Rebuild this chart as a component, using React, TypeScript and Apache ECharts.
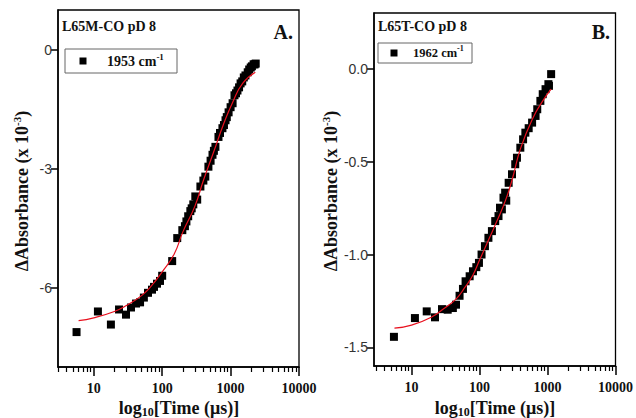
import React, { useEffect, useRef } from "react";
import * as echarts from "echarts";

// Panel A: L65M-CO pD 8, 1953 cm-1
const A_TIME = [5.6, 11.5, 17.8, 23.4, 29.6, 35, 41.5, 47.5, 54, 62, 71, 76, 84, 93, 100, 140, 166, 197, 215, 226, 240, 258, 270, 285, 305, 325, 362, 400, 427, 474, 510, 544, 570, 600, 665, 700, 760, 800, 843, 880, 935, 1000, 1070, 1140, 1200, 1260, 1330, 1400, 1480, 1560, 1650, 1780, 1870, 1970, 2050, 2170, 2250, 2330];
const A_VALUE = [-7.12, -6.6, -6.93, -6.55, -6.68, -6.5, -6.4, -6.37, -6.25, -6.13, -6.05, -5.98, -5.9, -5.83, -5.7, -5.33, -4.75, -4.55, -4.45, -4.33, -4.2, -4.07, -4.0, -3.9, -3.7, -3.78, -3.45, -3.3, -3.2, -2.95, -2.8, -2.65, -2.55, -2.45, -2.2, -2.1, -1.98, -1.9, -1.78, -1.7, -1.58, -1.45, -1.35, -1.15, -1.1, -1.03, -0.95, -0.85, -0.8, -0.7, -0.65, -0.57, -0.5, -0.45, -0.42, -0.37, -0.37, -0.35];
const A_FIT_TIME = [6, 10, 20, 30, 50, 70, 100, 150, 200, 300, 400, 560, 800, 1070, 1500, 2300];
const A_FIT_VALUE = [-6.83, -6.76, -6.6, -6.45, -6.2, -5.95, -5.6, -5.15, -4.6, -3.95, -3.3, -2.6, -1.85, -1.33, -0.85, -0.57];
const A_Y_TICKS = [-6, -3, 0];

// Panel B: L65T-CO pD 8, 1962 cm-1
const B_TIME = [5.5, 11.2, 16.7, 22.1, 28, 34, 40.5, 45, 50.8, 57, 62.3, 71.5, 80, 89.6, 98, 107, 120, 135, 152, 170, 190, 200, 213, 225, 238, 247, 268, 300, 335, 355, 398, 437, 472, 528, 593, 667, 706, 785, 850, 935, 1030, 1050, 1130];
const B_VALUE = [-1.443, -1.342, -1.306, -1.338, -1.294, -1.297, -1.288, -1.27, -1.222, -1.185, -1.144, -1.117, -1.09, -1.068, -1.045, -1.0, -0.955, -0.91, -0.874, -0.82, -0.793, -0.748, -0.757, -0.694, -0.667, -0.71, -0.614, -0.568, -0.514, -0.479, -0.425, -0.38, -0.344, -0.32, -0.29, -0.254, -0.218, -0.173, -0.137, -0.11, -0.083, -0.092, -0.029];
const B_FIT_TIME = [5.6, 10, 20, 30, 45, 60, 80, 100, 140, 180, 240, 300, 400, 600, 880, 1130];
const B_FIT_VALUE = [-1.396, -1.38, -1.335, -1.29, -1.24, -1.18, -1.11, -1.03, -0.91, -0.82, -0.71, -0.6, -0.43, -0.27, -0.165, -0.11];
const B_Y_TICKS = [-1.5, -1.0, -0.5, 0.0];

const X_MAJOR = [10, 100, 1000, 10000];
const X_MINOR = [3, 4, 5, 6, 7, 8, 9, 20, 30, 40, 50, 60, 70, 80, 90, 200, 300, 400, 500, 600, 700, 800, 900, 2000, 3000, 4000, 5000, 6000, 7000, 8000, 9000];

const SERIF = "'Liberation Serif', 'Times New Roman', serif";
const SANS = "'Liberation Sans', Arial, sans-serif";

const zip = (xs: number[], ys: number[]) => xs.map((x, i) => [x, ys[i]]);

function majorX(gridIndex: number, min: number) {
  return {
    type: "log",
    gridIndex,
    position: "bottom",
    min,
    max: 10000,
    axisLine: { show: true, onZero: false, lineStyle: { color: "#000", width: 1.5 } },
    axisTick: { show: true, length: 9, customValues: X_MAJOR, lineStyle: { color: "#000", width: 1.5 } },
    axisLabel: {
      show: true,
      customValues: X_MAJOR,
      formatter: (v: number) => String(Math.round(v)),
      fontFamily: SERIF,
      fontWeight: "bold",
      fontSize: 14,
      color: "#111",
      margin: 14,
    },
    splitLine: { show: false },
  };
}

function minorX(gridIndex: number, min: number) {
  return {
    type: "log",
    gridIndex,
    position: "bottom",
    min,
    max: 10000,
    axisLine: { show: false, onZero: false },
    axisTick: { show: true, length: 5, customValues: X_MINOR.filter((v) => v >= min), lineStyle: { color: "#000", width: 1.2 } },
    axisLabel: { show: false },
    splitLine: { show: false },
  };
}

function yAxis(gridIndex: number, min: number, max: number, ticks: number[], digits: number) {
  return {
    type: "value",
    gridIndex,
    min,
    max,
    axisLine: { show: true, onZero: false, lineStyle: { color: "#000", width: 1.5 } },
    axisTick: { show: true, length: 7, customValues: ticks, lineStyle: { color: "#000", width: 1.5 } },
    axisLabel: {
      show: true,
      customValues: ticks,
      formatter: (v: number) => v.toFixed(digits),
      fontFamily: SANS,
      fontSize: 14,
      color: "#333",
      margin: 6,
    },
    splitLine: { show: false },
  };
}

function richSup(main: string, sup: string, size: number) {
  return {
    text: `{m|${main}}{s|${sup}}`,
    rich: {
      m: { fontFamily: SERIF, fontWeight: "bold", fontSize: size, fill: "#111", lineHeight: size + 4 },
      s: { fontFamily: SERIF, fontWeight: "bold", fontSize: Math.round(size * 0.62), fill: "#111", lineHeight: Math.round(size * 0.6), verticalAlign: "top" },
    },
  };
}

export default function App() {
  const ref = useRef<HTMLDivElement>(null);
  useEffect(() => {
    if (!ref.current) return;
    const chart = echarts.init(ref.current, undefined, { renderer: "svg" });
    const yTitle = (x: number, y: number) => ({
      type: "text",
      x,
      y,
      rotation: Math.PI / 2,
      style: {
        text: "{m|ΔAbsorbance (x 10}{s|-3}{m|)}",
        rich: {
          m: { fontFamily: SERIF, fontWeight: "bold", fontSize: 18, fill: "#111", lineHeight: 21 },
          s: { fontFamily: SERIF, fontWeight: "bold", fontSize: 11, fill: "#111", lineHeight: 10, verticalAlign: "top" },
        },
        align: "center",
        verticalAlign: "middle",
      },
    });
    const xTitle = (x: number, y: number) => ({
      type: "text",
      x,
      y,
      style: {
        text: "{m|log}{s|10}{m|[Time (μs)]}",
        rich: {
          m: { fontFamily: SERIF, fontWeight: "bold", fontSize: 18, fill: "#111", lineHeight: 20 },
          s: { fontFamily: SERIF, fontWeight: "bold", fontSize: 12, fill: "#111", lineHeight: 10, verticalAlign: "bottom" },
        },
        align: "center",
        verticalAlign: "middle",
      },
    });
    const label = (x: number, y: number, text: string, size: number, align = "left") => ({
      type: "text",
      x,
      y,
      style: { text, fontFamily: SERIF, fontWeight: "bold", fontSize: size, fill: "#111", align, verticalAlign: "middle" },
    });
    const legendBox = (x: number, y: number, w: number, h: number, mx: number, tx: number, text: string, size: number) => ({
      type: "group",
      children: [
        { type: "rect", shape: { x, y, width: w, height: h }, style: { fill: "#fff", stroke: "#666", lineWidth: 1 } },
        { type: "rect", shape: { x: mx - 3.5, y: y + h / 2 - 3.5, width: 7, height: 7 }, style: { fill: "#000" } },
        { type: "text", x: tx, y: y + h / 2, style: { ...richSup(text, "-1", size), align: "left", verticalAlign: "middle" } },
      ],
    });

    chart.setOption({
      animation: false,
      backgroundColor: "#fff",
      grid: [
        { left: 58, top: 10, width: 241, height: 357, show: true, borderColor: "#000", borderWidth: 1.3 },
        { left: 374, top: 13, width: 242, height: 353, show: true, borderColor: "#000", borderWidth: 1.3 },
      ],
      xAxis: [majorX(0, 3), minorX(0, 3), majorX(1, 2.8), minorX(1, 2.8)],
      yAxis: [yAxis(0, -8, 1, A_Y_TICKS, 0), yAxis(1, -1.6, 0.3, B_Y_TICKS, 1)],
      series: [
        {
          name: "1953 cm-1",
          type: "scatter",
          xAxisIndex: 0,
          yAxisIndex: 0,
          symbol: "rect",
          symbolSize: 8,
          itemStyle: { color: "#000", opacity: 1 },
          data: zip(A_TIME, A_VALUE),
          z: 2,
        },
        {
          name: "fit A",
          type: "line",
          xAxisIndex: 0,
          yAxisIndex: 0,
          smooth: true,
          showSymbol: false,
          lineStyle: { color: "#e8101e", width: 1.2 },
          data: zip(A_FIT_TIME, A_FIT_VALUE),
          z: 3,
        },
        {
          name: "1962 cm-1",
          type: "scatter",
          xAxisIndex: 2,
          yAxisIndex: 1,
          symbol: "rect",
          symbolSize: 8,
          itemStyle: { color: "#000", opacity: 1 },
          data: zip(B_TIME, B_VALUE),
          z: 2,
        },
        {
          name: "fit B",
          type: "line",
          xAxisIndex: 2,
          yAxisIndex: 1,
          smooth: true,
          showSymbol: false,
          lineStyle: { color: "#e8101e", width: 1.2 },
          data: zip(B_FIT_TIME, B_FIT_VALUE),
          z: 3,
        },
      ],
      graphic: [
        label(62, 26, "L65M-CO pD 8", 14),
        label(293, 32, "A.", 20, "right"),
        legendBox(65, 49, 112, 24, 83, 107, "1953 cm", 14),
        label(378, 26, "L65T-CO pD 8", 14),
        label(610, 32, "B.", 20, "right"),
        legendBox(378, 43, 94, 20, 394, 413, "1962 cm", 12.5),
        yTitle(22, 191),
        yTitle(331, 191),
        xTitle(179, 408),
        xTitle(495, 408),
      ],
    });
    return () => chart.dispose();
  }, []);
  return <div ref={ref} style={{ position: "fixed", left: 0, top: 0, width: 636, height: 418 }} />;
}
